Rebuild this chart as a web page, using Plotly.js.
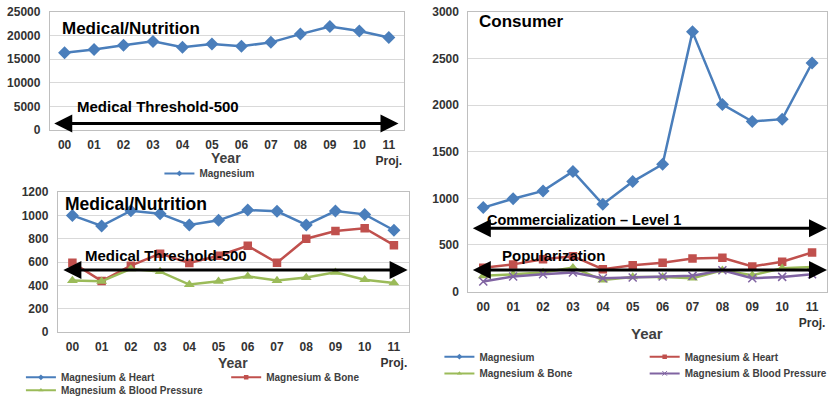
<!DOCTYPE html>
<html>
<head>
<meta charset="utf-8">
<script src="https://cdn.plot.ly/plotly-3.0.1.min.js"></script>
<style>html,body{margin:0;padding:0;background:#fff;}#chart{width:833px;height:405px;}</style>
</head>
<body>
<div id="chart"></div>
<script>
// ---- data ----
const years = ['00','01','02','03','04','05','06','07','08','09','10','11<br>Proj.'];

// Top-left: Medical/Nutrition – Magnesium
const medMagnesium = [16330, 17020, 17920, 18750, 17500, 18200, 17710, 18540, 20290, 21900, 20960, 19580];

// Bottom-left: Medical/Nutrition – combinations
const medHeart = [1000, 910, 1040, 1015, 918, 958, 1046, 1035, 918, 1038, 1009, 873];
const medBone  = [595, 437, 569, 672, 592, 654, 739, 594, 800, 867, 890, 745];
const medBP    = [441, 435, 541, 518, 407, 435, 478, 441, 467, 512, 449, 421];

// Right: Consumer
const conMagnesium = [901, 996, 1080, 1289, 937, 1180, 1366, 2785, 2007, 1824, 1849, 2451];
const conHeart     = [257, 292, 348, 380, 240, 282, 310, 356, 363, 270, 320, 420];
const conBone      = [169, 187, 204, 257, 124, 158, 158, 144, 229, 176, 250, 264];
const conBP        = [109, 162, 187, 204, 144, 151, 162, 169, 229, 144, 158, 187];

// threshold arrow levels (as drawn)
const topThreshold = 1400;
const botThreshold = 532;
const commLevel = 679;
const popLevel = 232;

// ---- style ----
const W = 833, H = 405;
const px = x => x / W;
const py = y => 1 - y / H;
const FONT = 'Liberation Sans, Arial, sans-serif';
const BLUE = '#4A7EBB', RED = '#C0504D', GREEN = '#9BBB59', PURPLE = '#8064A2';
const TICKC = '#333333';

function series(x, y, name, color, symbol, xa, ya, legend, msize) {
  const isX = symbol === 'x-thin';
  const data = {
    type: 'scatter', mode: 'lines+markers', x: x, y: y, name: name,
    xaxis: xa, yaxis: ya, showlegend: false,
    line: {color: color, width: 2.5},
    marker: {color: color, symbol: symbol, size: msize, line: {color: color, width: isX ? 1.5 : 0}},
    hoverinfo: 'skip'
  };
  // legend entry with the small marker used in the original legend
  const key = {
    type: 'scatter', mode: 'lines+markers', x: [null], y: [null], name: name,
    xaxis: xa, yaxis: ya, legend: legend, showlegend: true,
    line: {color: color, width: 2},
    marker: {color: color, symbol: symbol, size: 4.5, line: {color: color, width: isX ? 1 : 0}},
    hoverinfo: 'skip'
  };
  return [data, key];
}

const traces = [].concat(
  series(years, medMagnesium, 'Magnesium', BLUE, 'diamond', 'x', 'y', 'legend', 10),
  series(years, medHeart, 'Magnesium & Heart', BLUE, 'diamond', 'x2', 'y2', 'legend2', 10),
  series(years, medBone, 'Magnesium & Bone', RED, 'square', 'x2', 'y2', 'legend3', 8.5),
  series(years, medBP, 'Magnesium & Blood Pressure', GREEN, 'triangle-up', 'x2', 'y2', 'legend4', 9.5),
  series(years, conMagnesium, 'Magnesium', BLUE, 'diamond', 'x3', 'y3', 'legend5', 10),
  series(years, conHeart, 'Magnesium & Heart', RED, 'square', 'x3', 'y3', 'legend6', 8.5),
  series(years, conBone, 'Magnesium & Bone', GREEN, 'triangle-up', 'x3', 'y3', 'legend7', 9.5),
  series(years, conBP, 'Magnesium & Blood Pressure', PURPLE, 'x-thin', 'x3', 'y3', 'legend8', 8)
);

function xax(l, r, anchor) {
  return {
    domain: [px(l), px(r)], anchor: anchor, type: 'category', range: [-0.5, 11.5],
    showgrid: false, zeroline: false, showline: true, mirror: true, linecolor: '#BFBFBF', linewidth: 1,
    ticks: 'outside', ticklen: 4, tickcolor: 'rgba(0,0,0,0)',
    tickfont: {family: FONT, size: 12, color: TICKC, weight: 'bold'},
    fixedrange: true
  };
}
function yax(t, b, anchor, range, dtick) {
  return {
    domain: [py(b), py(t)], anchor: anchor, range: range, dtick: dtick, tickformat: 'd',
    showgrid: true, gridcolor: '#D9D9D9', gridwidth: 1, zeroline: false,
    showline: true, mirror: true, linecolor: '#BFBFBF', linewidth: 1,
    ticks: 'outside', ticklen: 6, tickcolor: 'rgba(0,0,0,0)',
    tickfont: {family: FONT, size: 12, color: TICKC, weight: 'bold'},
    fixedrange: true
  };
}

function legendAt(textLeft, yc) {
  return {
    x: px(textLeft - 40), xanchor: 'left', y: py(yc), yanchor: 'middle',
    bgcolor: 'rgba(0,0,0,0)', borderwidth: 0, orientation: 'h',
    font: {family: FONT, size: 10, color: '#404040', weight: 'bold'},
    itemclick: false, itemdoubleclick: false
  };
}

function txt(x, y, text, size) {
  return {xref: 'paper', yref: 'paper', x: px(x), y: py(y), xanchor: 'left', yanchor: 'middle',
          text: text, showarrow: false, font: {family: FONT, size: size, color: '#000', weight: 'bold'}};
}
function ctxt(x, y, text, size) {
  return {xref: 'paper', yref: 'paper', x: px(x), y: py(y), xanchor: 'center', yanchor: 'middle',
          text: text, showarrow: false, font: {family: FONT, size: size, color: '#404040', weight: 'bold'}};
}
function arrow(xa, ya, x0, x1, yv) {
  return {xref: xa, yref: ya, axref: xa, ayref: ya, x: x1, y: yv, ax: x0, ay: yv,
          text: '', showarrow: true, arrowside: 'end+start', arrowhead: 2, arrowsize: 1.2,
          arrowwidth: 3, arrowcolor: '#000', standoff: 0, startstandoff: 0};
}

const layout = {
  width: W, height: H, margin: {l: 0, r: 0, t: 0, b: 0},
  paper_bgcolor: '#fff', plot_bgcolor: '#fff', showlegend: true, hovermode: false,
  font: {family: FONT},
  xaxis: xax(50, 405, 'y'),
  yaxis: yax(12, 132, 'x', [0, 25000], 5000),
  xaxis2: xax(58, 410, 'y2'),
  yaxis2: yax(195, 337, 'x2', [0, 1200], 200),
  xaxis3: xax(470, 830, 'y3'),
  yaxis3: yax(12, 296, 'x3', [0, 3000], 500),
  legend: legendAt(200, 176),
  legend2: legendAt(61, 383),
  legend3: legendAt(267, 383),
  legend4: legendAt(61, 396),
  legend5: legendAt(481, 362),
  legend6: legendAt(687, 362),
  legend7: legendAt(481, 379),
  legend8: legendAt(687, 379),
  annotations: [
    txt(60, 29, 'Medical/Nutrition', 17),
    txt(75, 108, 'Medical Threshold-500', 15),
    arrow('x', 'y', -0.4, 11.33, topThreshold),
    ctxt(227, 160, 'Year', 14),
    txt(63, 207, 'Medical/Nutrition', 17.5),
    txt(83, 259, 'Medical Threshold-500', 15),
    arrow('x2', 'y2', -0.36, 11.47, botThreshold),
    ctxt(234, 368, 'Year', 14),
    txt(479, 22, 'Consumer', 17),
    txt(487, 223, 'Commercialization \u2013 Level 1', 14.5),
    txt(502, 259, 'Popularization', 15),
    arrow('x3', 'y3', -0.4, 11.5, commLevel),
    arrow('x3', 'y3', -0.4, 11.5, popLevel),
    ctxt(649, 339, 'Year', 15)
  ]
};

Plotly.newPlot('chart', traces, layout, {displayModeBar: false, staticPlot: true});
</script>
</body>
</html>
